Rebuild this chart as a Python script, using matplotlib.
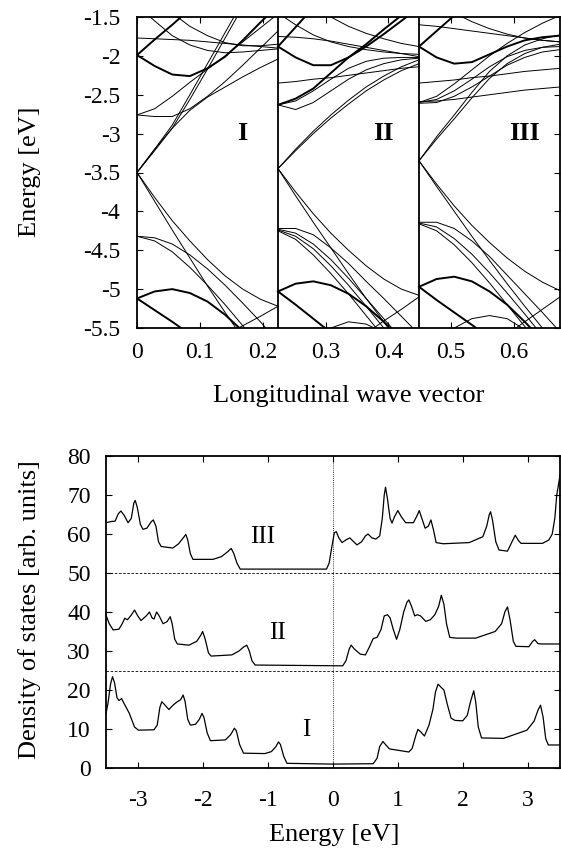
"""
Band structure (three cases I, II, III) over the longitudinal wave vector,
plus the matching density of states, stacked with offsets of 25.
"""

import numpy as np
import matplotlib

matplotlib.use("Agg")
import matplotlib.pyplot as plt  # noqa: E402

plt.rcParams["font.family"] = ["Liberation Serif", "DejaVu Serif"]

# --------------------------------------------------------------------------- #
# Data: band structure
# --------------------------------------------------------------------------- #

PANEL_DK = 0.2244                 # k range covered by each panel
PANEL_NAMES = ["I", "II", "III"]
F_GRID = [0.0, 0.125, 0.25, 0.375, 0.5, 0.625, 0.75, 0.875, 1.0]  # fraction of panel

bands_I = [
    [-3.50, -3.20, -2.89, -2.50, -2.10, -1.70, -1.30, -0.90, -0.50],
    [-3.50, -3.22, -2.93, -2.56, -2.17, -1.77, -1.37, -0.97, -0.57],
    [-3.50, -3.20, -2.93, -2.70, -2.53, -2.40, -2.27, -2.15, -2.04],
    [-3.50, -3.87, -4.24, -4.60, -4.96, -5.30, -5.63, -5.95, -6.25],
    [-3.50, -3.82, -4.12, -4.38, -4.62, -4.83, -5.00, -5.13, -5.22],
    [-4.32, -4.34, -4.42, -4.56, -4.74, -4.95, -5.18, -5.42, -5.68],
    [-4.32, -4.38, -4.52, -4.72, -4.95, -5.20, -5.47, -5.75, -6.00],
    [-5.12, -5.03, -5.00, -5.05, -5.16, -5.33, -5.54, -5.78, -6.00],
    [-5.12, -5.27, -5.42, -5.58, -5.74, -5.90, -6.05, -6.20, -6.35],
    [-6.26, -6.13, -6.00, -5.87, -5.74, -5.60, -5.47, -5.35, -5.22],
    [-1.77, -1.78, -1.79, -1.80, -1.82, -1.84, -1.86, -1.88, -1.90],
    [-1.99, -2.13, -2.24, -2.26, -2.16, -2.01, -1.80, -1.57, -1.35],
    [-2.76, -2.78, -2.78, -2.68, -2.52, -2.33, -2.12, -1.90, -1.68],
    [-2.76, -2.68, -2.52, -2.34, -2.17, -2.00, -1.82, -1.64, -1.46],
    [-1.99, -1.79, -1.60, -1.40, -1.20, -1.00, -0.80, -0.60, -0.40],
    [-1.35, -1.55, -1.74, -1.86, -1.93, -1.96, -1.95, -1.93, -1.91],
    [-1.10, -1.25, -1.45, -1.62, -1.74, -1.83, -1.87, -1.87, -1.85],
]
thick_I = [7, 8, 11, 14]

bands_II = [
    [-3.45, -3.20, -2.97, -2.76, -2.57, -2.40, -2.26, -2.14, -2.05],
    [-3.45, -3.22, -3.00, -2.80, -2.62, -2.45, -2.31, -2.19, -2.10],
    [-3.45, -3.80, -4.14, -4.47, -4.80, -5.12, -5.42, -5.72, -6.00],
    [-3.45, -3.75, -4.03, -4.28, -4.50, -4.70, -4.87, -5.00, -5.08],
    [-4.22, -4.22, -4.30, -4.47, -4.67, -4.90, -5.12, -5.35, -5.58],
    [-4.23, -4.28, -4.42, -4.62, -4.86, -5.12, -5.38, -5.64, -5.90],
    [-4.24, -4.32, -4.48, -4.70, -4.95, -5.22, -5.50, -5.78, -6.05],
    [-4.25, -4.36, -4.56, -4.80, -5.06, -5.34, -5.62, -5.90, -6.20],
    [-5.03, -4.93, -4.90, -4.95, -5.06, -5.22, -5.42, -5.65, -5.90],
    [-5.03, -5.20, -5.38, -5.56, -5.74, -5.92, -6.10, -6.28, -6.46],
    [-6.20, -5.95, -5.70, -5.50, -5.42, -5.45, -5.56, -5.72, -5.90],
    [-6.35, -6.20, -6.05, -5.89, -5.73, -5.57, -5.41, -5.26, -5.10],
    [-1.75, -1.76, -1.78, -1.81, -1.85, -1.89, -1.93, -1.97, -2.01],
    [-2.35, -2.33, -2.30, -2.28, -2.25, -2.22, -2.19, -2.16, -2.14],
    [-2.63, -2.55, -2.42, -2.22, -2.02, -1.85, -1.66, -1.48, -1.30],
    [-2.63, -2.69, -2.60, -2.45, -2.30, -2.18, -2.10, -2.05, -2.03],
    [-2.63, -2.58, -2.45, -2.30, -2.16, -2.07, -2.03, -2.02, -2.02],
    [-1.88, -2.02, -2.12, -2.12, -2.02, -1.88, -1.72, -1.55, -1.38],
    [-1.88, -1.63, -1.38, -1.13, -0.90, -0.70, -0.50, -0.30, -0.10],
    [-1.45, -1.60, -1.73, -1.82, -1.88, -1.92, -1.95, -1.97, -1.98],
    [-1.10, -1.22, -1.36, -1.50, -1.62, -1.71, -1.78, -1.84, -1.88],
]
thick_II = [8, 9, 14, 17, 18]

bands_III = [
    [-3.35, -3.04, -2.76, -2.47, -2.20, -2.00, -1.86, -1.78, -1.73],
    [-3.35, -3.07, -2.81, -2.54, -2.29, -2.10, -1.97, -1.89, -1.85],
    [-3.35, -3.68, -4.00, -4.32, -4.63, -4.93, -5.22, -5.50, -5.78],
    [-3.35, -3.65, -3.93, -4.18, -4.40, -4.60, -4.77, -4.91, -5.02],
    [-4.14, -4.14, -4.22, -4.38, -4.58, -4.82, -5.06, -5.30, -5.55],
    [-4.15, -4.20, -4.35, -4.55, -4.79, -5.05, -5.32, -5.60, -5.88],
    [-4.16, -4.25, -4.43, -4.66, -4.92, -5.20, -5.48, -5.76, -6.05],
    [-4.97, -4.87, -4.84, -4.90, -5.03, -5.20, -5.42, -5.66, -5.92],
    [-4.97, -5.14, -5.30, -5.46, -5.62, -5.78, -5.94, -6.10, -6.26],
    [-6.00, -5.75, -5.50, -5.38, -5.34, -5.38, -5.52, -5.70, -5.92],
    [-6.40, -6.25, -6.10, -5.92, -5.75, -5.58, -5.42, -5.26, -5.10],
    [-2.35, -2.33, -2.31, -2.28, -2.26, -2.23, -2.20, -2.18, -2.16],
    [-2.59, -2.58, -2.56, -2.53, -2.50, -2.47, -2.44, -2.42, -2.40],
    [-2.60, -2.52, -2.36, -2.18, -2.00, -1.84, -1.70, -1.58, -1.48],
    [-2.60, -2.56, -2.45, -2.30, -2.14, -2.01, -1.93, -1.89, -1.88],
    [-2.61, -2.60, -2.52, -2.40, -2.26, -2.12, -2.02, -1.95, -1.92],
    [-1.88, -2.02, -2.10, -2.08, -1.98, -1.88, -1.80, -1.76, -1.74],
    [-1.60, -1.62, -1.65, -1.68, -1.71, -1.74, -1.77, -1.80, -1.82],
    [-1.88, -1.68, -1.48, -1.28, -1.08, -0.88, -0.68, -0.48, -0.28],
    [-1.20, -1.32, -1.45, -1.56, -1.65, -1.72, -1.77, -1.80, -1.82],
]
thick_III = [7, 8, 16, 18]

# --------------------------------------------------------------------------- #
# Data: density of states (energies in eV, DOS incl. the +25 / +50 offsets)
# --------------------------------------------------------------------------- #

dos_I_e = [-3.50, -3.47, -3.43, -3.40, -3.37, -3.33, -3.30, -3.26, -3.22, -3.14,
           -3.06, -3.00, -2.76, -2.71, -2.67, -2.64, -2.60, -2.53, -2.46, -2.40,
           -2.35, -2.31, -2.28, -2.24, -2.20, -2.12, -2.06, -2.02, -1.99, -1.94,
           -1.89, -1.66, -1.58, -1.52, -1.49, -1.44, -1.38, -1.05, -0.95, -0.88,
           -0.84, -0.81, -0.76, -0.71, 0.00, 0.62, 0.68, 0.72, 0.77, 0.81,
           0.87, 1.17, 1.22, 1.28, 1.31, 1.35, 1.41, 1.48, 1.54, 1.58,
           1.62, 1.66, 1.71, 1.76, 1.82, 1.88, 2.00, 2.07, 2.12, 2.17,
           2.20, 2.24, 2.29, 2.63, 2.99, 3.10, 3.16, 3.20, 3.24, 3.28,
           3.32, 3.50]
dos_I = [14.0, 16.5, 21.5, 23.4, 22.0, 18.0, 17.3, 17.8, 16.5, 14.0,
         10.5, 9.7, 9.8, 11.0, 15.5, 17.0, 16.3, 15.0, 16.2, 17.0,
         17.5, 18.7, 17.0, 12.5, 11.0, 11.2, 12.5, 14.0, 13.0, 9.0,
         7.0, 7.2, 8.5, 10.2, 9.5, 6.0, 3.8, 3.7, 4.2, 5.5,
         6.7, 6.0, 3.0, 1.2, 1.0, 1.1, 2.5, 5.5, 6.8, 6.0,
         4.9, 4.1, 5.0, 8.5, 9.9, 9.3, 8.2, 11.0, 15.0, 19.5,
         21.5, 20.8, 20.0, 16.5, 12.8, 12.2, 12.1, 13.5, 17.0, 19.8,
         17.0, 10.5, 7.7, 7.6, 9.7, 12.0, 14.8, 16.1, 13.0, 7.5,
         5.9, 5.9]

dos_II_e = [-3.50, -3.45, -3.39, -3.30, -3.25, -3.21, -3.17, -3.12, -3.06, -3.01,
            -2.96, -2.88, -2.83, -2.79, -2.76, -2.72, -2.68, -2.62, -2.56, -2.51,
            -2.48, -2.44, -2.40, -2.22, -2.10, -2.04, -2.01, -1.97, -1.92, -1.88,
            -1.56, -1.45, -1.38, -1.33, -1.29, -1.25, -1.20, 0.15, 0.20, 0.25,
            0.28, 0.33, 0.42, 0.50, 0.56, 0.62, 0.68, 0.74, 0.79, 0.84,
            0.88, 0.93, 0.98, 1.03, 1.09, 1.14, 1.17, 1.21, 1.26, 1.30,
            1.35, 1.43, 1.50, 1.57, 1.63, 1.67, 1.71, 1.75, 1.80, 1.90,
            2.20, 2.50, 2.60, 2.65, 2.69, 2.73, 2.78, 2.82, 3.02, 3.08,
            3.11, 3.16, 3.22, 3.50]
dos_II = [39.2, 37.0, 35.4, 35.6, 37.0, 38.4, 38.0, 39.0, 40.5, 39.0,
          37.8, 39.0, 40.0, 38.5, 38.2, 40.0, 39.0, 37.0, 37.5, 38.8,
          37.0, 33.0, 31.8, 31.5, 32.5, 34.0, 35.0, 33.0, 29.5, 28.7,
          29.0, 30.0, 31.0, 31.5, 30.0, 27.5, 26.4, 26.2, 27.5, 30.5,
          31.5, 30.5, 29.2, 29.0, 31.0, 33.2, 33.5, 35.5, 39.0, 39.3,
          38.5, 35.5, 33.0, 35.5, 40.0, 42.5, 43.1, 41.5, 39.0, 39.3,
          39.0, 37.6, 38.0, 39.3, 41.5, 44.3, 42.0, 37.0, 33.5, 33.3,
          33.3, 35.0, 37.0, 40.0, 41.3, 38.0, 32.5, 31.2, 31.1, 32.5,
          32.9, 31.9, 31.8, 31.8]

dos_III_e = [-3.50, -3.42, -3.36, -3.31, -3.27, -3.22, -3.16, -3.11, -3.07, -3.05,
             -3.02, -2.97, -2.93, -2.87, -2.80, -2.77, -2.73, -2.69, -2.65, -2.47,
             -2.38, -2.30, -2.27, -2.24, -2.20, -2.16, -1.85, -1.72, -1.62, -1.57,
             -1.53, -1.48, -1.43, -0.10, -0.06, -0.02, 0.02, 0.05, 0.09, 0.14,
             0.20, 0.26, 0.32, 0.37, 0.44, 0.50, 0.54, 0.60, 0.66, 0.72,
             0.76, 0.79, 0.81, 0.84, 0.88, 0.91, 0.95, 1.00, 1.05, 1.12,
             1.24, 1.29, 1.33, 1.37, 1.42, 1.47, 1.51, 1.55, 1.59, 1.70,
             2.10, 2.31, 2.37, 2.41, 2.43, 2.46, 2.51, 2.56, 2.69, 2.76,
             2.81, 2.86, 2.90, 3.23, 3.33, 3.38, 3.42, 3.45, 3.50]
dos_III = [62.9, 63.2, 63.3, 65.2, 65.9, 64.8, 62.9, 64.0, 68.0, 68.6,
           67.0, 62.5, 61.2, 61.5, 63.2, 63.6, 62.0, 58.0, 56.8, 56.4,
           57.5, 59.2, 59.9, 58.5, 55.0, 53.5, 53.5, 54.2, 55.5, 56.3,
           55.0, 52.5, 51.0, 51.0, 52.5, 56.5, 60.3, 60.6, 59.0, 57.8,
           58.5, 59.0, 58.0, 57.2, 58.0, 59.5, 60.0, 59.0, 58.7, 59.5,
           64.0, 70.0, 72.0, 69.0, 64.0, 62.8, 64.5, 66.0, 64.5, 62.9,
           62.9, 64.5, 66.0, 64.0, 61.5, 62.0, 63.6, 61.0, 57.8, 57.5,
           57.8, 59.3, 62.0, 65.0, 65.7, 63.5, 58.0, 55.9, 55.6, 58.0,
           59.7, 58.3, 57.6, 57.6, 58.5, 60.0, 64.0, 70.0, 75.0]

DOS_BASELINES = [25, 50]
dos_label_pos = [(-0.41, 9.7, "I"), (-0.85, 34.6, "II"), (-1.08, 59.3, "III")]

# --------------------------------------------------------------------------- #
# Figure
# --------------------------------------------------------------------------- #

FS_TICK = 17
FS_LABEL = 19
fig = plt.figure(figsize=(5.61, 8.5), dpi=100)

# ---- band structure ----
ax1 = fig.add_axes([137 / 561, 1 - 328 / 850, 423 / 561, 311 / 850])
all_bands = [bands_I, bands_II, bands_III]
all_thick = [thick_I, thick_II, thick_III]
for p, (bands, thick) in enumerate(zip(all_bands, all_thick)):
    k = p * PANEL_DK + np.array(F_GRID) * PANEL_DK
    for i, e in enumerate(bands):
        ax1.plot(k, e, color="black", lw=1.4 if i in thick else 0.7,
                 solid_joinstyle="round")
    if p > 0:
        ax1.axvline(p * PANEL_DK, color="black", lw=1.3)
    ax1.text(p * PANEL_DK + 0.75 * PANEL_DK, -3.0, PANEL_NAMES[p],
             fontsize=19, fontweight="bold", ha="center", va="center")

ax1.set_xlim(0, 3 * PANEL_DK)
ax1.set_ylim(-5.5, -1.5)
ax1.set_xticks([0, 0.1, 0.2, 0.3, 0.4, 0.5, 0.6])
ax1.set_xticklabels(["0", "0.1", "0.2", "0.3", "0.4", "0.5", "0.6"])
ax1.set_yticks(np.arange(-5.5, -1.49, 0.5))
ax1.set_yticklabels(["-5.5", "-5", "-4.5", "-4", "-3.5", "-3", "-2.5", "-2", "-1.5"])
ax1.tick_params(axis="both", direction="in", top=True, right=True,
                length=4, width=0.8, labelsize=FS_TICK)
ax1.tick_params(axis="y", pad=12)
ax1.tick_params(axis="x", pad=10)
for s in ax1.spines.values():
    s.set_linewidth(1.3)

fig.text(30 / 561, 1 - 172 / 850, "Energy [eV]", rotation=90,
         ha="center", va="center", fontsize=FS_LABEL)
fig.text(349 / 561, 1 - 396 / 850, "Longitudinal wave vector",
         ha="center", va="center", fontsize=FS_LABEL)

# ---- density of states ----
ax2 = fig.add_axes([106 / 561, 1 - 768 / 850, 454 / 561, 312 / 850])
for e, d in [(dos_I_e, dos_I), (dos_II_e, dos_II), (dos_III_e, dos_III)]:
    ax2.plot(e, d, color="black", lw=0.9, solid_joinstyle="round")
for b in DOS_BASELINES:
    ax2.axhline(b, color="black", lw=0.6, ls=(0, (3, 2)))
ax2.axvline(0, color="black", lw=0.6, ls=(0, (1, 1.5)))
for x, y, name in dos_label_pos:
    ax2.text(x, y, name, fontsize=18, ha="center", va="center")

ax2.set_xlim(-3.5, 3.5)
ax2.set_ylim(0, 80)
ax2.set_xticks([-3, -2, -1, 0, 1, 2, 3])
ax2.set_xticklabels(["-3", "-2", "-1", "0", "1", "2", "3"])
ax2.set_yticks(range(0, 81, 10))
ax2.tick_params(axis="both", direction="in", top=True, right=True,
                length=4, width=0.8, labelsize=FS_TICK)
ax2.tick_params(axis="y", pad=11)
ax2.tick_params(axis="x", pad=16)
for s in ax2.spines.values():
    s.set_linewidth(1.3)

fig.text(30 / 561, 1 - 610 / 850, "Density of states [arb. units]", rotation=90,
         ha="center", va="center", fontsize=FS_LABEL)
fig.text(334 / 561, 1 - 835 / 850, "Energy [eV]",
         ha="center", va="center", fontsize=FS_LABEL)

fig.savefig("out.png", dpi=100)
